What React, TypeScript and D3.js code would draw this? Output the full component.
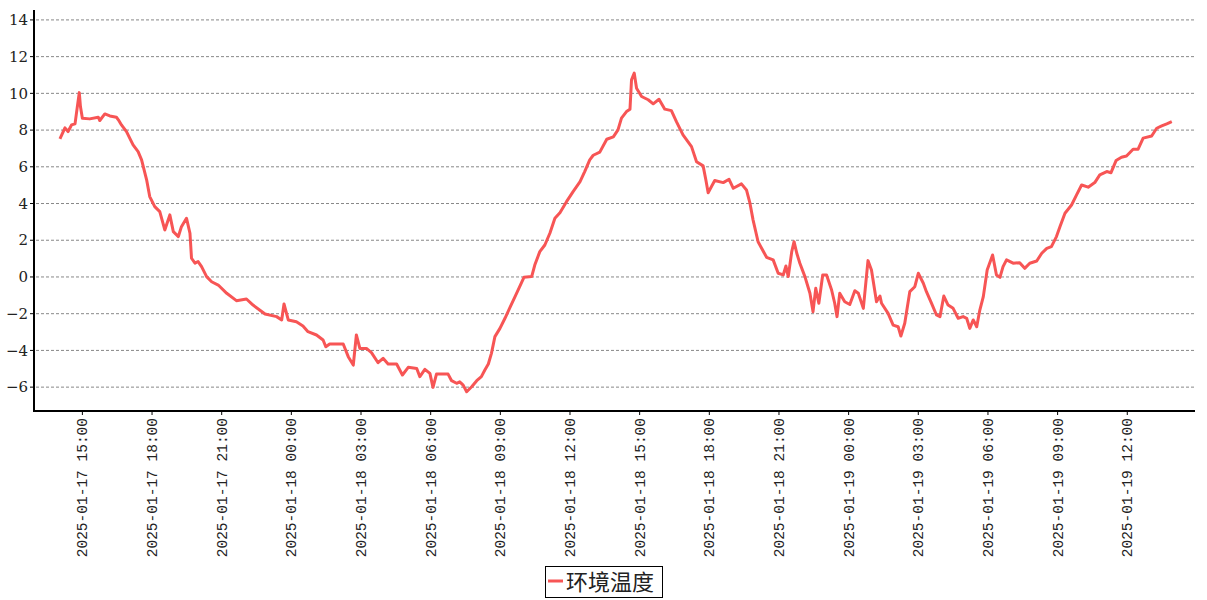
import React from "react";
import * as d3 from "d3";

const SERIES_NAME = "环境温度";

const DAY17_TIMES = ["14:02","14:15","14:23","14:32","14:41","14:47","14:52","14:55","15:00","15:19","15:41","15:45","15:58","16:11","16:28","16:33","16:41","16:54","17:11","17:24","17:33","17:46","17:54","18:07","18:20","18:33","18:46","18:55","19:08","19:16","19:29","19:38","19:42","19:51","19:59","20:08","20:21","20:34","20:51","21:13","21:38","22:04","22:21","22:52","23:22","23:35","23:41","23:52"];
const DAY17_VALUES = [7.52,8.12,7.92,8.28,8.34,9.28,10.04,9.28,8.65,8.61,8.70,8.52,8.88,8.77,8.70,8.56,8.28,7.92,7.19,6.83,6.38,5.29,4.38,3.83,3.56,2.56,3.38,2.47,2.20,2.74,3.20,2.38,1.02,0.75,0.84,0.56,0.02,-0.26,-0.44,-0.89,-1.29,-1.20,-1.53,-2.02,-2.16,-2.34,-1.47,-2.34];

const DAY18_TIMES = ["00:13","00:30","00:43","01:05","01:22","01:29","01:39","02:14","02:27","02:40","02:48","02:57","03:14","03:27","03:44","03:57","04:10","04:32","04:47","05:02","05:24","05:32","05:45","05:58","06:06","06:15","06:45","06:54","07:07","07:15","07:24","07:33","07:46","07:59","08:11","08:20","08:29","08:37","08:46","08:59","09:12","09:25","09:38","09:50","10:01","10:21","10:29","10:42","10:55","11:08","11:21","11:34","11:51","12:08","12:26","12:38","12:51","13:00","13:17","13:35","13:52","14:04","14:13","14:26","14:35","14:39","14:46","14:52","15:05","15:22","15:35","15:50","16:05","16:22","16:35","16:52","17:14","17:27","17:44","17:51","17:57","18:14","18:36","18:51","19:02","19:23","19:36","19:45","19:53","20:06","20:28","20:45","20:58","21:11","21:18","21:24","21:33","21:39","21:46","21:54","22:07","22:20","22:28","22:35","22:43","22:53","23:03","23:16","23:24","23:30","23:37","23:50"];
const DAY18_VALUES = [-2.44,-2.67,-2.98,-3.16,-3.43,-3.80,-3.65,-3.65,-4.34,-4.80,-3.16,-3.89,-3.89,-4.12,-4.67,-4.43,-4.74,-4.74,-5.34,-4.92,-4.98,-5.43,-5.03,-5.25,-6.01,-5.29,-5.29,-5.65,-5.79,-5.71,-5.89,-6.25,-5.98,-5.65,-5.43,-5.07,-4.74,-4.16,-3.25,-2.80,-2.25,-1.65,-1.07,-0.53,-0.02,0.02,0.65,1.38,1.74,2.38,3.20,3.50,4.10,4.65,5.19,5.74,6.38,6.63,6.80,7.50,7.63,8.01,8.65,9.01,9.14,10.74,11.10,10.28,9.83,9.65,9.43,9.68,9.14,9.06,8.46,7.74,7.10,6.28,6.05,5.29,4.59,5.25,5.14,5.32,4.83,5.07,4.74,4.02,3.11,1.92,1.07,0.93,0.20,0.11,0.60,0.02,1.38,1.92,1.29,0.75,0.02,-0.89,-1.89,-0.62,-1.43,0.11,0.11,-0.71,-1.43,-2.16,-0.89,-1.35];

const DAY19_TIMES = ["00:03","00:16","00:25","00:38","00:50","00:59","01:12","01:21","01:25","01:42","01:55","02:08","02:15","02:25","02:38","02:51","03:00","03:13","03:21","03:34","03:47","03:56","04:06","04:17","04:30","04:43","04:56","05:05","05:13","05:22","05:31","05:39","05:48","05:58","06:12","06:22","06:31","06:39","06:48","07:05","07:22","07:35","07:48","08:06","08:19","08:32","08:44","08:57","09:06","09:19","09:36","09:49","10:02","10:19","10:36","10:49","11:07","11:18","11:31","11:45","11:58","12:15","12:28","12:41","13:03","13:16","13:29","13:42","13:55"];
const DAY19_VALUES = [-1.50,-0.75,-0.89,-1.71,0.89,0.38,-1.35,-1.04,-1.43,-1.98,-2.62,-2.71,-3.22,-2.52,-0.80,-0.53,0.20,-0.34,-0.80,-1.43,-2.07,-2.16,-1.04,-1.53,-1.71,-2.25,-2.16,-2.25,-2.80,-2.34,-2.71,-1.80,-1.07,0.38,1.20,0.11,-0.02,0.56,0.93,0.75,0.78,0.47,0.75,0.87,1.29,1.56,1.65,2.20,2.74,3.47,3.92,4.47,5.01,4.89,5.14,5.56,5.74,5.68,6.34,6.52,6.59,6.96,6.96,7.56,7.68,8.10,8.23,8.34,8.46];

const Y_TICKS = [-6, -4, -2, 0, 2, 4, 6, 8, 10, 12, 14];
const X_DOMAIN = ["2025-01-17 12:55", "2025-01-19 14:55"];
const Y_DOMAIN = [-7.3, 14.54];

const parse = d3.timeParse("%Y-%m-%d %H:%M");
const fmt = d3.timeFormat("%Y-%m-%d %H:%M");

const TIMES = [
  ...DAY17_TIMES.map((t) => "2025-01-17 " + t),
  ...DAY18_TIMES.map((t) => "2025-01-18 " + t),
  ...DAY19_TIMES.map((t) => "2025-01-19 " + t),
];
const VALUES = [...DAY17_VALUES, ...DAY18_VALUES, ...DAY19_VALUES];

export default function App() {
  const W = 1207, H = 600;
  const left = 34, right = 1195, top = 10, bottom = 411;
  const x = d3.scaleTime().domain(X_DOMAIN.map((s) => parse(s) as Date)).range([left, right]);
  const y = d3.scaleLinear().domain(Y_DOMAIN).range([bottom, top]);
  const data = TIMES.map((t, i) => ({ t: parse(t) as Date, v: VALUES[i] }));
  const line = d3.line<{ t: Date; v: number }>().x((d) => x(d.t)).y((d) => y(d.v));
  const xTicks = x.ticks(d3.timeHour.every(3) as any);
  const color = "#f75555";

  return (
    <svg width={W} height={H} style={{ position: "absolute", left: 0, top: 0, background: "#fff" }}>
      {Y_TICKS.map((t) => (
        <g key={t}>
          <line x1={left + 2} x2={right} y1={y(t)} y2={y(t)} stroke="#888" strokeWidth={1} strokeDasharray="3,2" />
          <line x1={left - 4} x2={left} y1={y(t)} y2={y(t)} stroke="#000" strokeWidth={1} />
          <text x={28} y={y(t)} dy="0.35em" textAnchor="end" fontFamily="DejaVu Serif" fontSize={15} fill="#222">
            {t < 0 ? "\u2212" + Math.abs(t) : String(t)}
          </text>
        </g>
      ))}
      <line x1={left} x2={left} y1={top} y2={bottom + 1} stroke="#000" strokeWidth={2} />
      <line x1={left} x2={right} y1={bottom} y2={bottom} stroke="#000" strokeWidth={2} />
      {xTicks.map((t, i) => (
        <g key={i}>
          <line x1={x(t)} x2={x(t)} y1={bottom} y2={bottom + 4} stroke="#000" strokeWidth={1} />
          <text
            transform={`translate(${x(t)},${bottom + 7}) rotate(-90)`}
            textAnchor="end"
            dy="0.35em"
            fontFamily="Liberation Mono"
            fontSize={14.5}
            fill="#222"
          >
            {fmt(t)}
          </text>
        </g>
      ))}
      <path d={line(data) || ""} fill="none" stroke={color} strokeWidth={3} strokeLinejoin="round" />
      <g>
        <rect x={545.5} y={566.5} width={117} height={31} fill="#fff" stroke="#000" strokeWidth={1} />
        <line x1={548} x2={563} y1={581} y2={581} stroke={color} strokeWidth={3} />
        <text x={566} y={582} dy="0.35em" fontFamily="Noto Sans CJK SC" fontSize={22} fill="#222">
          {SERIES_NAME}
        </text>
      </g>
    </svg>
  );
}
